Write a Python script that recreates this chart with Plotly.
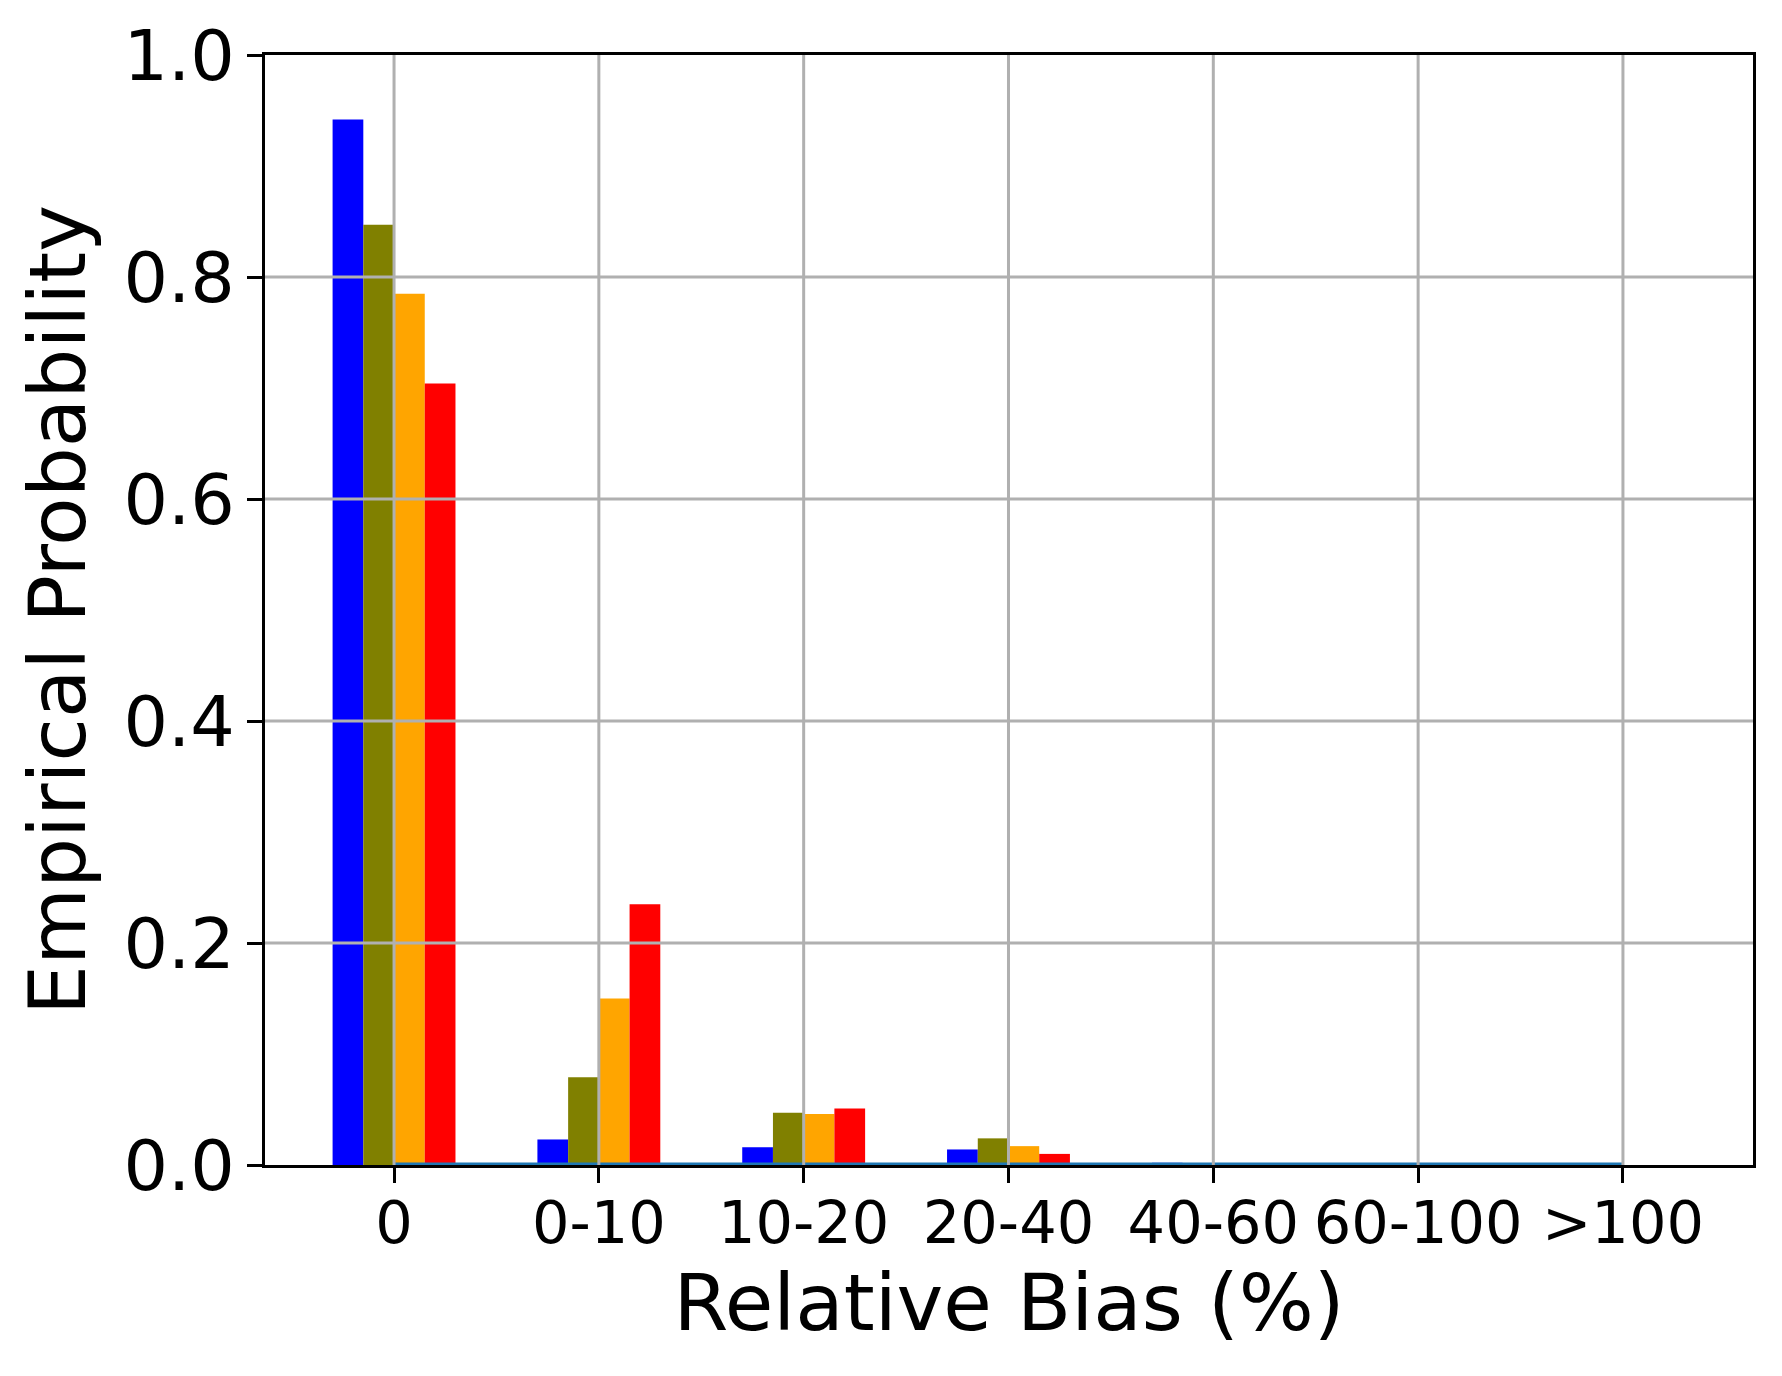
import plotly.graph_objects as go

# ---------------------------------------------------------
# data
# ---------------------------------------------------------
categories = ["0", "0-10", "10-20", "20-40", "40-60", "60-100", ">100"]

series_names = ["Series 1", "Series 2", "Series 3", "Series 4"]
series_colors = ["#0000ff", "#808000", "#ffa500", "#ff0000"]

series_1 = [0.942, 0.023, 0.016, 0.014, 0.002, 0.0, 0.0]
series_2 = [0.847, 0.079, 0.047, 0.024, 0.0, 0.0, 0.0]
series_3 = [0.785, 0.150, 0.046, 0.017, 0.0, 0.0, 0.0]
series_4 = [0.704, 0.235, 0.051, 0.010, 0.0, 0.0, 0.0]

baseline = [0.0, 0.0, 0.0, 0.0, 0.0, 0.0, 0.0]

y_ticks = [0.0, 0.2, 0.4, 0.6, 0.8, 1.0]

FONT = "DejaVu Sans"
GRID = "#b0b0b0"

fig = go.Figure()

for name, color, vals in zip(series_names, series_colors,
                             [series_1, series_2, series_3, series_4]):
    fig.add_trace(go.Bar(
        x=categories, y=vals, name=name,
        marker=dict(color=color, line=dict(width=0)),
    ))

# thin line running along zero
fig.add_trace(go.Scatter(
    x=categories, y=baseline, mode="lines", name="baseline",
    line=dict(color="#1f77b4", width=5),
))

# grid drawn above the bars (as in the original)
for c in categories:
    fig.add_shape(type="line", xref="x", yref="y", x0=c, x1=c, y0=0, y1=1,
                  line=dict(color=GRID, width=3), layer="above")
for t in y_ticks[1:-1]:
    fig.add_shape(type="line", xref="x domain", yref="y", x0=0, x1=1, y0=t, y1=t,
                  line=dict(color=GRID, width=3), layer="above")

axis_common = dict(
    showline=True, linecolor="black", linewidth=3.3, mirror=True,
    ticks="outside", ticklen=15, tickwidth=3.3, tickcolor="black",
    showgrid=False, zeroline=False, layer="above traces", automargin=False,
)

# the page body adds an 8px offset, so the figure is a bit smaller
fig.update_layout(
    width=1774, height=1368,
    margin=dict(l=257, r=29, t=47, b=211),
    paper_bgcolor="white", plot_bgcolor="white",
    barmode="group", bargap=0.4, bargroupgap=0,
    showlegend=False,
    font=dict(family=FONT, color="black"),
    xaxis=dict(
        **axis_common,
        type="category",
        range=[-0.63, 6.635],
        tickangle=0,
        tickfont=dict(size=59, family=FONT, color="black"),
        ticklabelstandoff=-11,
        title=dict(text="Relative Bias (%)", font=dict(size=79, family=FONT, color="black"), standoff=12),
    ),
    yaxis=dict(
        **axis_common,
        range=[0, 1.0],
        tickvals=y_ticks,
        tickformat=".1f",
        tickfont=dict(size=70, family=FONT, color="black"),
        ticklabelstandoff=-2,
        title=dict(text="Empirical Probability", font=dict(size=79, family=FONT, color="black"), standoff=12),
    ),
)

fig.write_html("out.html")
